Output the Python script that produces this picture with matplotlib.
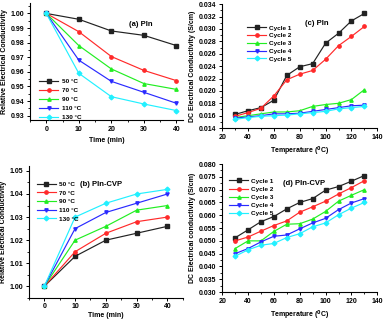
import matplotlib
matplotlib.use("Agg")
import matplotlib.pyplot as plt
from matplotlib.ticker import AutoMinorLocator, MultipleLocator, FormatStrFormatter

plt.rcParams['font.family'] = ['Liberation Sans', 'DejaVu Sans']
plt.rcParams['font.weight'] = 'bold'
plt.rcParams['font.size'] = 5

time_min = [0, 10, 20, 30, 40]
temp_labels = ['50 °C', '70 °C', '90 °C', '110 °C', '130 °C']

pln_rel = [
    [1.000, 0.996, 0.988, 0.985, 0.978],
    [1.000, 0.9875, 0.9705, 0.961, 0.954],
    [1.000, 0.978, 0.962, 0.952, 0.948],
    [1.000, 0.968, 0.9535, 0.946, 0.9385],
    [1.000, 0.959, 0.943, 0.938, 0.9335],
]
cvp_rel = [
    [1.000, 1.013, 1.020, 1.023, 1.026],
    [1.000, 1.015, 1.023, 1.028, 1.030],
    [1.000, 1.020, 1.026, 1.033, 1.035],
    [1.000, 1.025, 1.032, 1.036, 1.040],
    [1.000, 1.030, 1.036, 1.040, 1.042],
]

temperature = [30, 40, 50, 60, 70, 80, 90, 100, 110, 120, 130]
cycle_labels = ['Cycle 1', 'Cycle 2', 'Cycle 3', 'Cycle 4', 'Cycle 5']

pln_dc = [
    [0.0162, 0.0168, 0.0173, 0.0185, 0.0225, 0.0239, 0.0244, 0.0277, 0.0293, 0.0313, 0.0325],
    [0.0159, 0.0165, 0.0172, 0.0192, 0.0218, 0.0227, 0.0233, 0.0251, 0.0273, 0.0288, 0.0304],
    [0.0157, 0.0160, 0.0163, 0.0166, 0.0166, 0.0168, 0.0175, 0.0178, 0.0180, 0.0186, 0.0202],
    [0.0156, 0.0158, 0.0160, 0.0163, 0.0163, 0.0164, 0.0167, 0.0170, 0.0173, 0.0176, 0.0177],
    [0.0154, 0.0157, 0.0159, 0.0160, 0.0161, 0.0163, 0.0165, 0.0167, 0.0171, 0.0173, 0.0175],
]
cvp_dc = [
    [0.0512, 0.0543, 0.0575, 0.0595, 0.0625, 0.0650, 0.0665, 0.0698, 0.0712, 0.0733, 0.0755],
    [0.0500, 0.0515, 0.0538, 0.0560, 0.0578, 0.0612, 0.0633, 0.0655, 0.0683, 0.0708, 0.0735],
    [0.0470, 0.0500, 0.0500, 0.0537, 0.0565, 0.0567, 0.0585, 0.0615, 0.0655, 0.0678, 0.0700],
    [0.0450, 0.0470, 0.0496, 0.0518, 0.0523, 0.0547, 0.0570, 0.0588, 0.0622, 0.0648, 0.0665],
    [0.0440, 0.0465, 0.0483, 0.0490, 0.0513, 0.0528, 0.0555, 0.0570, 0.0602, 0.0628, 0.0650],
]

colors = ['#222222', '#ff2a2a', '#22ee22', '#2a2aff', '#22f0ff']
markers = ['s', 'o', '^', 'v', 'D']

fig = plt.figure(figsize=(3.85, 3.21), dpi=100)

def style(ax):
    for s in ['top', 'right']:
        ax.spines[s].set_visible(False)
    for s in ['left', 'bottom']:
        ax.spines[s].set_linewidth(0.8)
    ax.tick_params(which='major', direction='out', length=2.5, width=0.7, labelsize=5, pad=1.5)
    ax.tick_params(which='minor', direction='out', length=1.5, width=0.6)
    ax.xaxis.set_minor_locator(AutoMinorLocator(2))
    ax.yaxis.set_minor_locator(AutoMinorLocator(2))
    for lab in ax.get_xticklabels() + ax.get_yticklabels():
        lab.set_fontweight('bold')

def plot_series(ax, x, ys, labels):
    for y, c, m, l in zip(ys, colors, markers, labels):
        ax.plot(x, y, color=c, marker=m, markersize=2.4, linewidth=0.85, label=l)

def legend(ax, loc, anchor, spacing):
    ax.legend(loc=loc, bbox_to_anchor=anchor, frameon=False, fontsize=4.6,
              handlelength=3, labelspacing=spacing, borderpad=0.0, borderaxespad=0.0,
              handletextpad=0.5)

# (a)
axa = fig.add_axes([0.078, 0.626, 0.397, 0.364])
plot_series(axa, time_min, pln_rel, temp_labels)
axa.set_xlim(-5, 42)
axa.set_ylim(0.927, 1.007)
axa.xaxis.set_major_locator(MultipleLocator(10))
axa.yaxis.set_major_locator(MultipleLocator(0.01))
axa.yaxis.set_major_formatter(FormatStrFormatter('%.2f'))
axa.set_xlabel('Time (min)', fontsize=5, fontweight='bold', labelpad=3)
axa.set_ylabel('Relative Electrical Conductivity', fontsize=5, fontweight='bold', labelpad=2)
axa.text(0.65, 0.82, '(a) Pln', transform=axa.transAxes, fontsize=5.5, fontweight='bold',
         va='center')
legend(axa, 'lower left', (0.06, 0.0), 0.55)
style(axa)

# (c)
axc = fig.add_axes([0.577, 0.601, 0.403, 0.386])
plot_series(axc, temperature, pln_dc, cycle_labels)
axc.set_xlim(20, 140)
axc.set_ylim(0.014, 0.034)
axc.xaxis.set_major_locator(MultipleLocator(20))
axc.yaxis.set_major_locator(MultipleLocator(0.002))
axc.yaxis.set_major_formatter(FormatStrFormatter('%.3f'))
axc.set_xlabel('Temperature ($^0$C)', fontsize=5, fontweight='bold', labelpad=3)
axc.set_ylabel('DC Electrical Conductivity (S/cm)', fontsize=5, fontweight='bold', labelpad=2)
axc.text(0.535, 0.84, '(c) Pln', transform=axc.transAxes, fontsize=5.5, fontweight='bold',
         va='center')
legend(axc, 'upper left', (0.16, 0.83), 0.35)
style(axc)

# (b)
axb = fig.add_axes([0.075, 0.072, 0.40, 0.410])
plot_series(axb, time_min, cvp_rel, temp_labels)
axb.set_xlim(-5, 45)
axb.set_ylim(0.995, 1.052)
axb.xaxis.set_major_locator(MultipleLocator(10))
axb.yaxis.set_major_locator(MultipleLocator(0.01))
axb.yaxis.set_major_formatter(FormatStrFormatter('%.2f'))
axb.set_xlabel('Time (min)', fontsize=5, fontweight='bold', labelpad=1)
axb.set_ylabel('Relative Electical Conductivity', fontsize=5, fontweight='bold', labelpad=2)
axb.text(0.33, 0.86, '(b) Pln-CVP', transform=axb.transAxes, fontsize=5.5, fontweight='bold',
         va='center')
legend(axb, 'upper left', (0.05, 0.885), 0.5)
style(axb)

# (d)
axd = fig.add_axes([0.577, 0.090, 0.403, 0.399])
plot_series(axd, temperature, cvp_dc, cycle_labels)
axd.set_xlim(20, 140)
axd.set_ylim(0.030, 0.080)
axd.xaxis.set_major_locator(MultipleLocator(20))
axd.yaxis.set_major_locator(MultipleLocator(0.005))
axd.yaxis.set_major_formatter(FormatStrFormatter('%.3f'))
axd.set_xlabel('Temperature ($^0$C)', fontsize=5, fontweight='bold', labelpad=3)
axd.set_ylabel('DC Electrical conductivity (S/cm)', fontsize=5, fontweight='bold', labelpad=2)
axd.text(0.39, 0.85, '(d) Pln-CVP', transform=axd.transAxes, fontsize=5.5, fontweight='bold',
         va='center')
legend(axd, 'upper left', (0.045, 0.89), 0.42)
style(axd)

fig.savefig('out.png', dpi=100)
